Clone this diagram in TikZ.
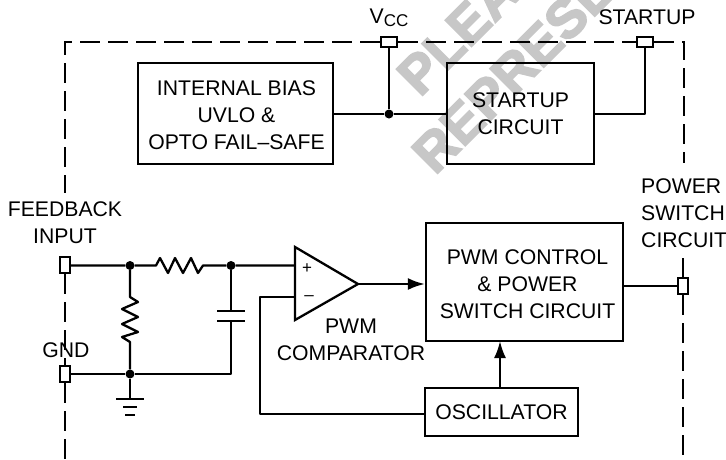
\documentclass[tikz,border=0pt]{standalone}
\usepackage{fontspec}
\setmainfont{Liberation Sans}
\newfontfamily\stampfont{Liberation Sans}[BoldFeatures={FakeBold=3}]
\usetikzlibrary{arrows.meta}
\tikzset{
  block/.style={draw,line width=2.3pt,align=center,inner sep=0pt},
  pin/.style={draw,line width=2.3pt,fill=white,inner sep=0pt},
  wire/.style={line width=2.3pt,line join=round},
  frame/.style={line width=2.3pt,dash pattern=on 20pt off 8pt},
  joint/.style={circle,fill=black,inner sep=0pt,minimum size=9pt},
  lbl/.style={align=center,inner sep=0pt},
  stamp/.style={rotate=45,text=black!22,anchor=base west,inner sep=0pt,font=\stampfont\fontsize{54}{54}\selectfont\bfseries},
  tip/.style={wire,-{Latex[length=17pt,width=12pt]}}
}
\begin{document}
\begin{tikzpicture}[x=1pt,y=-1pt,font=\fontsize{21.2}{27}\selectfont]
\clip (0,0) rectangle (726,459);
\useasboundingbox (0,0) rectangle (726,459);
% watermark
\node[stamp] (wmA) at (420,98) {PLEASE};
\node[stamp] (wmB) at (435,176) {REPRESENT};
% boxes
\node[block,minimum width=195pt,minimum height=101pt] (bias) at (235.5,113.5) {};
\node[lbl] (biastxt) at (236.5,115) {INTERNAL BIAS\\UVLO \&\\OPTO FAIL--SAFE};
\node[block,minimum width=147pt,minimum height=101pt] (start) at (520.5,113.5) {};
\node[lbl] (starttxt) at (520.5,114) {STARTUP\\CIRCUIT};
\node[block,minimum width=197pt,minimum height=118pt] (pwm) at (524.5,282) {};
\node[lbl] (pwmtxt) at (527.5,284) {PWM CONTROL\\\&~POWER\\SWITCH CIRCUIT};
\node[block,minimum width=153pt,minimum height=48pt] (osc) at (501.5,412) {OSCILLATOR};
% pins
\node[pin,minimum width=16pt,minimum height=10pt] (vcc) at (389,42) {};
\node[pin,minimum width=16pt,minimum height=10pt] (sup) at (645,42) {};
\node[pin,minimum width=10pt,minimum height=16pt] (fb) at (65,265) {};
\node[pin,minimum width=10pt,minimum height=16pt] (gnd) at (65,374) {};
\node[pin,minimum width=10pt,minimum height=16pt] (out) at (683,286) {};
% frame
\coordinate (tl) at (65,42);
\coordinate (tr) at (684,42);
\coordinate (lend) at (65,193);
\coordinate (rend) at (684,163);
\coordinate (rtop) at (683,258);
\coordinate (lbot) at (65,459);
\coordinate (rbot) at (683,459);
\draw[frame] (vcc.west) -- (tl) -- (lend);
\draw[frame] (vcc.east) -- (sup.west);
\draw[frame] (sup.east) -- (tr) -- (rend);
\draw[frame] (fb.south) -- (gnd.north);
\draw[frame] (gnd.south) -- (lbot);
\draw[frame] (out.north) -- (rtop);
\draw[frame] (out.south) -- (rbot);
% comparator
\coordinate (cplus) at (295,265.5);
\coordinate (cminus) at (295,297);
\coordinate (ctip) at (358,284);
\draw[line width=2.3pt,line join=miter] (295,247) -- (ctip) -- (295,320) -- cycle;
\node[lbl,font=\fontsize{17}{17}\selectfont] (plus) at (307,269) {+};
\node[lbl,font=\fontsize{17}{17}\selectfont] (minus) at (309,298) {--};
% joints
\node[joint] (j1) at (389,114) {};
\node[joint] (j2) at (130,265.5) {};
\node[joint] (j3) at (231,265.5) {};
\node[joint] (j4) at (130,374) {};
% top wires
\draw[wire] (bias.east|-j1) -- (j1) -- (start.west|-j1);
\draw[wire] (j1) -- (vcc.south);
\draw[wire] (start.east|-j1) -| (sup.south);
% input network
\coordinate (rh1) at (156,265.5);
\coordinate (rh2) at (203,265.5);
\coordinate (rv1) at (130,297);
\coordinate (rv2) at (130,342);
\draw[wire] (fb.east|-j2) -- (j2) -- (rh1) -- (160,258) -- (168,273) -- (175,258) -- (183,273) -- (191,258) -- (198,273) -- (rh2) -- (j3) -- (cplus);
\draw[wire] (j2) -- (rv1) -- (138,302) -- (122,309) -- (138,317) -- (122,324) -- (138,332) -- (122,337) -- (rv2) -- (j4);
\coordinate (capa) at (231,311);
\coordinate (capb) at (231,321);
\coordinate (capc) at (231,374);
\draw[wire] (j3) -- (capa);
\draw[wire] (capb) -- (capc) -- (j4);
\draw[wire] (gnd.east|-j4) -- (j4);
\draw[wire] (217,311) -- (245,311);
\draw[wire] (217,321) -- (245,321);
% ground
\coordinate (g1) at (130,399);
\draw[wire] (j4) -- (g1);
\draw[wire] (116,399) -- (144,399);
\draw[wire] (123,407) -- (137,407);
\draw[wire] (125,415) -- (135,415);
% control path
\coordinate (oscup) at (500,388);
\coordinate (pwmdn) at (500,341);
\coordinate (oscin) at (425,414);
\coordinate (mbend) at (260,297);
\coordinate (mlow) at (260,414);
\draw[tip] (ctip) -- (ctip-|pwm.west);
\draw[tip] (oscup) -- (pwmdn);
\draw[wire] (cminus) -- (mbend) -- (mlow) -- (oscin);
\draw[wire] (pwm.east|-out) -- (out.west);
% labels
\node[lbl] (lfb) at (65,222.5) {FEEDBACK\\INPUT};
\node[lbl] (lgnd) at (66,350) {GND};
\node[lbl] (lcmp) at (351,340) {PWM\\COMPARATOR};
\node[lbl] (lvcc) at (389,18) {V\raisebox{-3pt}{\fontsize{17}{17}\selectfont CC}};
\node[lbl] (lsup) at (647,17) {STARTUP};
\node[lbl,align=left,anchor=west] (lout) at (641,213) {POWER\\SWITCH\\CIRCUIT};
\end{tikzpicture}
\end{document}
